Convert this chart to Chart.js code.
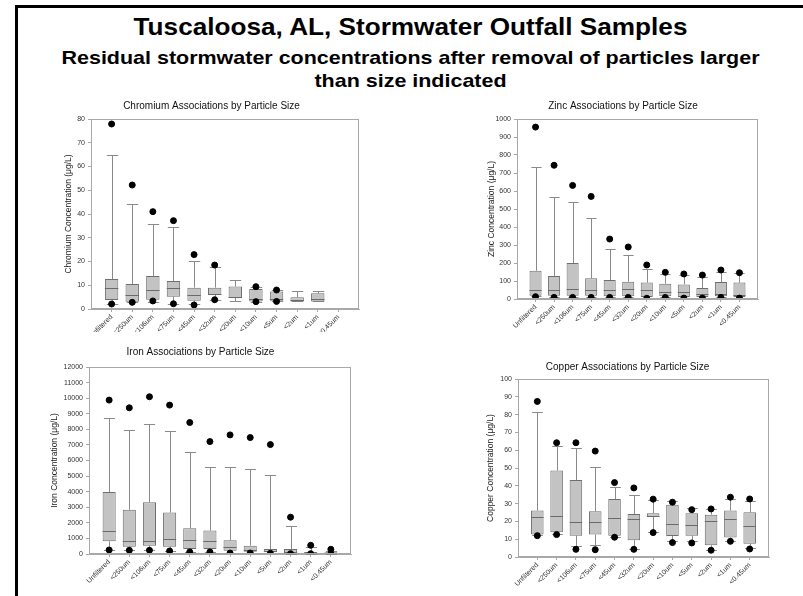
<!DOCTYPE html>
<html>
<head>
<meta charset="utf-8">
<title>Tuscaloosa stormwater particle size box plots</title>
<script src="https://cdn.jsdelivr.net/npm/chart.js@4.4.0/dist/chart.umd.min.js"></script>
<style>
    html, body { margin: 0; padding: 0; background: #fff; }
    body { width: 803px; height: 596px; position: relative; overflow: hidden; font-family: "Liberation Sans", Arial, sans-serif; }
    #frame { position: absolute; left: 15px; top: 5px; width: 900px; height: 700px; border-left: 3px solid #000; border-top: 3px solid #000; }
    .head { position: absolute; left: 18px; width: 785px; text-align: center; font-weight: bold; color: #000; white-space: nowrap; line-height: 1; }
    .head.main { font-size: 24px; transform: scaleX(1.09); }
    .head.sub { font-size: 19px; transform: scaleX(1.13); }
    .box { position: absolute; overflow: hidden; }
</style>
</head>
<body>
<div id="frame"></div>
<div class="head main" style="top:15px;">Tuscaloosa, AL, Stormwater Outfall Samples</div>
<div class="head sub" style="top:48px;">Residual stormwater concentrations after removal of particles larger</div>
<div class="head sub" style="top:71px;">than size indicated</div>

<div class="box" style="left:60px; top:97px; width:303px; height:235px;"><canvas id="crChart"></canvas></div>
<div class="box" style="left:484px; top:97px; width:278px; height:243px;"><canvas id="znChart"></canvas></div>
<div class="box" style="left:46px; top:343px; width:309px; height:253px;"><canvas id="feChart"></canvas></div>
<div class="box" style="left:482px; top:358px; width:291px; height:238px;"><canvas id="cuChart"></canvas></div>

<script>
// particle size fractions (x categories)
const sizes = ['Unfiltered', '<250um', '<106um', '<75um', '<45um', '<32um', '<20um', '<10um', '<5um', '<2um', '<1um', '<0.45um'];

// Chromium (ug/L)
const crQ1 = [3.8, 3.1, 3.9, 5.2, 3.5, 5.9, 4.6, 3.2, 3.5, 3.2, 3.2, null];
const crMed = [8.7, 5.9, 8.0, 8.7, 5.9, 6.3, 4.9, 4.4, 4.1, 3.8, 4.2, null];
const crQ3 = [12.6, 10.5, 13.9, 11.8, 9.0, 9.0, 9.5, 8.4, 7.4, 4.9, 6.6, null];
const crLow = [2.2, 2.8, 3.1, 2.2, 2.0, 3.9, 3.4, 3.1, 3.2, 3.2, 3.2, null];
const crHigh = [64.8, 44.0, 35.6, 34.7, 20.4, 17.5, 12.1, 9.3, 8.0, 7.7, 7.6, null];
const crOutLow = [2.1, 2.8, 3.4, 2.2, 1.7, 3.9, null, 3.1, 3.2, null, null, null];
const crOutHigh = [77.9, 52.2, 41.0, 37.2, 22.9, 18.5, null, 9.4, 8.0, null, null, null];

// Zinc (ug/L)
const znQ1 = [18, 18, 18, 18, 15, 15, 11, 15, 11, 11, 15, 11];
const znMed = [50, 48, 54, 48, 48, 54, 48, 37, 37, 28, 28, 22];
const znQ3 = [157, 128, 200, 115, 105, 96, 91, 85, 81, 61, 94, 91];
const znLow = [15, 12, 12, 12, 12, 12, 7, 12, 8, 8, 12, 8];
const znHigh = [735, 567, 537, 448, 278, 243, 169, 137, 131, 124, 152, 144];
const znOutLow = [13, 9, 9, 9, 9, 9, 4, 9, 5, 5, 9, 5];
const znOutHigh = [955, 743, 631, 570, 333, 289, 189, 148, 139, 133, 161, 146];

// Iron (ug/L)
const feQ1 = [816, 472, 537, 472, 322, 322, 215, 150, 107, 86, 43, 21];
const feMed = [1460, 816, 816, 966, 923, 859, 451, 279, 193, 150, 86, 64];
const feQ3 = [3972, 2834, 3328, 2662, 1653, 1503, 880, 537, 322, 322, 129, 107];
const feLow = [280, 240, 240, 200, 140, 140, 70, 70, 50, 30, 25, 15];
const feHigh = [8717, 7965, 8330, 7880, 6570, 5604, 5604, 5432, 5088, 1782, 472, 193];
const feOutLow = [258, 236, 236, 193, 129, 129, 64, 64, 43, 21, 21, 10];
const feOutHigh = [9876, 9382, 10091, 9554, 8438, 7214, 7643, 7472, 7021, 2362, 558, 300];

// Copper (ug/L)
const cuQ1 = [12.6, 13.9, 12.0, 12.6, 12.0, 9.4, 22.5, 11.8, 12.0, 6.6, 10.9, 7.5];
const cuMed = [22.7, 22.9, 19.9, 19.7, 21.8, 21.2, 23.3, 18.4, 18.0, 20.1, 21.2, 17.4];
const cuQ3 = [26.1, 48.6, 43.2, 25.7, 32.6, 24.2, 24.6, 29.3, 24.6, 23.8, 26.1, 25.1];
const cuLow = [12.6, 13.0, 6.4, 6.6, 11.3, 4.5, 14.3, 8.8, 8.8, 4.1, 9.2, 4.9];
const cuHigh = [81.4, 62.3, 61.0, 50.5, 39.6, 35.1, 32.1, 31.5, 27.4, 27.0, 32.6, 31.3];
const cuOutLow = [12.0, 12.6, 4.3, 4.1, 11.1, 4.3, 13.7, 8.1, 7.9, 3.8, 8.8, 4.5];
const cuOutHigh = [87.4, 64.2, 64.2, 59.5, 41.8, 38.8, 32.5, 30.8, 26.6, 27.0, 33.6, 32.6];

Chart.defaults.font.family = '"Liberation Sans", Arial, sans-serif';
Chart.defaults.color = '#333';

const BOX_FRACTION = 0.65;

// whiskers, caps, medians and plot frame
const boxParts = {
    id: 'boxParts',
    beforeDatasetsDraw(chart, args, opts) {
        const {ctx, scales: {x, y}} = chart;
        const w = (x.getPixelForValue(1) - x.getPixelForValue(0)) * BOX_FRACTION * 0.85;
        ctx.save();
        ctx.strokeStyle = '#8a8a8a';
        ctx.lineWidth = 1;
        opts.q1.forEach((v, i) => {
            if (v == null) return;
            const px = Math.round(x.getPixelForValue(i)) + 0.5;
            const top = y.getPixelForValue(opts.q3[i]);
            const bot = y.getPixelForValue(v);
            const hi = Math.round(y.getPixelForValue(opts.high[i])) + 0.5;
            const lo = Math.round(y.getPixelForValue(opts.low[i])) + 0.5;
            ctx.beginPath();
            ctx.moveTo(px, top); ctx.lineTo(px, hi);
            ctx.moveTo(px - w / 2, hi); ctx.lineTo(px + w / 2, hi);
            ctx.moveTo(px, bot); ctx.lineTo(px, lo);
            ctx.moveTo(px - w / 2, lo); ctx.lineTo(px + w / 2, lo);
            ctx.stroke();
        });
        ctx.restore();
    },
    afterDatasetDraw(chart, args, opts) {
        if (args.meta.type !== 'bar') return;
        const {ctx, scales: {x, y}} = chart;
        const w = (x.getPixelForValue(1) - x.getPixelForValue(0)) * BOX_FRACTION;
        ctx.save();
        ctx.strokeStyle = '#6a6a6a';
        ctx.lineWidth = 1;
        opts.med.forEach((v, i) => {
            if (v == null) return;
            const px = x.getPixelForValue(i);
            const py = Math.round(y.getPixelForValue(v)) + 0.5;
            ctx.beginPath();
            ctx.moveTo(px - w / 2, py); ctx.lineTo(px + w / 2, py);
            ctx.stroke();
        });
        ctx.restore();
    },
    afterDraw(chart) {
        const {ctx, chartArea: a} = chart;
        ctx.save();
        ctx.strokeStyle = '#a8a8a8';
        ctx.lineWidth = 1;
        ctx.strokeRect(Math.round(a.left) + 0.5, Math.round(a.top) + 0.5, Math.round(a.width) - 1, Math.round(a.height) - 1);
        ctx.restore();
    }
};

function points(vals) {
    const out = [];
    vals.forEach((v, i) => { if (v != null) out.push({x: i, y: v}); });
    return out;
}

// Create a box plot from quartiles, 10/90 whiskers and 5/95 points
function createBoxPlot(canvasId, cfg) {
    const ctx = document.getElementById(canvasId);
    const boxes = cfg.q1.map((v, i) => ({x: i, y: v == null ? null : [v, cfg.q3[i]]}));
    const outliers = points(cfg.outHigh).concat(points(cfg.outLow));

    return new Chart(ctx, {
        type: 'bar',
        data: {
            datasets: [{
                type: 'scatter',
                data: outliers,
                backgroundColor: '#000',
                borderColor: '#000',
                pointRadius: 3,
                pointHoverRadius: 3
            }, {
                type: 'bar',
                data: boxes,
                backgroundColor: '#c3c3c3',
                borderColor: '#6e6e6e',
                borderWidth: 1,
                borderSkipped: false,
                categoryPercentage: 1,
                barPercentage: BOX_FRACTION
            }]
        },
        options: {
            responsive: true,
            maintainAspectRatio: false,
            animation: false,
            layout: { padding: 0 },
            plugins: {
                legend: { display: false },
                tooltip: { enabled: false },
                title: {
                    display: true,
                    text: cfg.title,
                    color: '#111',
                    font: { size: 10, weight: 'normal' },
                    padding: cfg.titlePad
                },
                boxParts: { q1: cfg.q1, q3: cfg.q3, med: cfg.med, low: cfg.low, high: cfg.high }
            },
            scales: {
                x: {
                    type: 'linear',
                    min: -1,
                    max: 12,
                    offset: false,
                    afterBuildTicks: scale => { scale.ticks = sizes.map((s, i) => ({value: i})); },
                    afterFit: scale => { scale.height = cfg.xHeight; },
                    ticks: {
                        autoSkip: false,
                        minRotation: 45,
                        maxRotation: 45,
                        padding: 1,
                        font: { size: 7 },
                        color: '#333',
                        callback: value => sizes[value] || ''
                    },
                    grid: { display: true, drawOnChartArea: false, offset: false, tickLength: 3, color: '#a8a8a8' },
                    border: { color: '#a8a8a8' }
                },
                y: {
                    min: 0,
                    max: cfg.yMax,
                    afterFit: scale => { scale.width = cfg.yWidth; },
                    ticks: {
                        stepSize: cfg.yStep,
                        padding: 3,
                        font: { size: 7 },
                        color: '#333',
                        callback: value => String(value)
                    },
                    grid: { display: true, drawOnChartArea: false, tickLength: 3, color: '#a8a8a8' },
                    border: { color: '#a8a8a8' },
                    title: {
                        display: true,
                        text: cfg.yTitle,
                        color: '#222',
                        font: { size: 8.5 },
                        padding: { top: cfg.yTitlePad, bottom: 0 }
                    }
                }
            }
        },
        plugins: [boxParts]
    });
}

createBoxPlot('crChart', {
    title: 'Chromium Associations by Particle Size',
    yTitle: 'Chromium Concentration (\u03bcg/L)',
    q1: crQ1, med: crMed, q3: crQ3, low: crLow, high: crHigh, outLow: crOutLow, outHigh: crOutHigh,
    yMax: 80, yStep: 10, yWidth: 31, xHeight: 23, yTitlePad: 4,
    titlePad: { top: 3, bottom: 7 }
});

createBoxPlot('znChart', {
    title: 'Zinc Associations by Particle Size',
    yTitle: 'Zinc Concentration (\u03bcg/L)',
    q1: znQ1, med: znMed, q3: znQ3, low: znLow, high: znHigh, outLow: znOutLow, outHigh: znOutHigh,
    yMax: 1000, yStep: 100, yWidth: 33, xHeight: 41, yTitlePad: 3,
    titlePad: { top: 3, bottom: 7 }
});

createBoxPlot('feChart', {
    title: 'Iron Associations by Particle Size',
    yTitle: 'Iron Concentration (\u03bcg/L)',
    q1: feQ1, med: feMed, q3: feQ3, low: feLow, high: feHigh, outLow: feOutLow, outHigh: feOutHigh,
    yMax: 12000, yStep: 1000, yWidth: 43, xHeight: 42, yTitlePad: 4,
    titlePad: { top: 3, bottom: 9 }
});

createBoxPlot('cuChart', {
    title: 'Copper Associations by Particle Size',
    yTitle: 'Copper Concentration (\u03bcg/L)',
    q1: cuQ1, med: cuMed, q3: cuQ3, low: cuLow, high: cuHigh, outLow: cuOutLow, outHigh: cuOutHigh,
    yMax: 100, yStep: 10, yWidth: 36, xHeight: 39, yTitlePad: 4,
    titlePad: { top: 3, bottom: 6 }
});
</script>
</body>
</html>
